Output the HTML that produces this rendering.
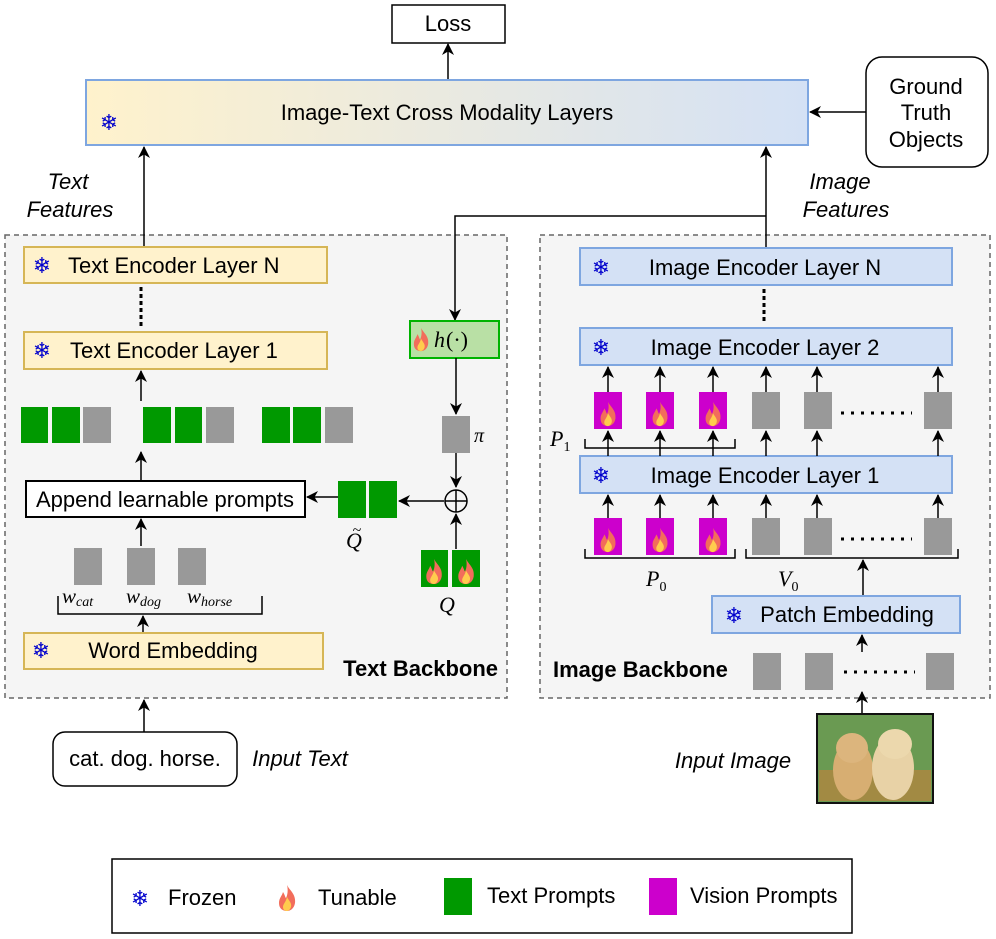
<!DOCTYPE html>
<html><head><meta charset="utf-8"><style>
html,body{margin:0;padding:0;background:#fff;}
svg{display:block;font-family:"Liberation Sans",sans-serif;}
.t{font-size:22px;fill:#000;}
.sf{font-family:"DejaVu Sans",sans-serif;font-size:22px;fill:#0000cc;font-weight:bold;}
.m{font-family:"Liberation Serif",serif;font-style:italic;fill:#000;}
</style></head><body>
<svg width="996" height="939" viewBox="0 0 996 939" xmlns="http://www.w3.org/2000/svg">
<defs>
<linearGradient id="g" x1="0" x2="1" y1="0" y2="0"><stop offset="0" stop-color="#fff2cc"/><stop offset="1" stop-color="#d4e1f5"/></linearGradient>
<marker id="a" markerWidth="12" markerHeight="12" refX="11" refY="6" orient="auto" markerUnits="userSpaceOnUse"><path d="M0,0 L12,6 L0,12 L3.5,6 Z" fill="#000"/></marker>
<symbol id="fl" viewBox="0 0 20 28"><path d="M10,1 C13,7 19,10 18,19 C17,25 13,27 10,27 C6,27 2,25 2,19 C2,14 5,12 6,8 C8,11 8,13 9,14 C11,10 11,5 10,1 Z" fill="#f26d5b"/><path d="M10,13 C12,17 15,19 14,23 C13,26 11,27 10,27 C8,27 6,26 6,23 C6,20 9,18 10,13 Z" fill="#ffcc4d"/></symbol>
</defs>

<rect x="392" y="5" width="113" height="38" fill="#fff" stroke="#000" stroke-width="1.5"/>
<text x="448" y="31" class="t" text-anchor="middle" font-size="21">Loss</text>
<line x1="448" y1="80" x2="448" y2="44" stroke="#000" stroke-width="1.5" marker-end="url(#a)"/>
<rect x="86" y="80" width="722" height="65" fill="url(#g)" stroke="#7ea6e0" stroke-width="2"/>
<text x="447" y="120" class="t" text-anchor="middle">Image-Text Cross Modality Layers</text>
<text x="109" y="130" class="sf" text-anchor="middle">❄</text>
<rect x="866" y="57" width="122" height="110" rx="16" fill="#fff" stroke="#000" stroke-width="1.5"/>
<text x="926" y="94" class="t" text-anchor="middle">Ground</text>
<text x="926" y="120" class="t" text-anchor="middle">Truth</text>
<text x="926" y="147" class="t" text-anchor="middle">Objects</text>
<line x1="866" y1="112" x2="810" y2="112" stroke="#000" stroke-width="1.5" marker-end="url(#a)"/>
<text x="68" y="189" class="t" text-anchor="middle" font-style="italic">Text</text>
<text x="70" y="217" class="t" text-anchor="middle" font-style="italic">Features</text>
<text x="840" y="189" class="t" text-anchor="middle" font-style="italic">Image</text>
<text x="846" y="217" class="t" text-anchor="middle" font-style="italic">Features</text>

<rect x="5" y="235" width="502" height="463" fill="#f5f5f5" stroke="#666" stroke-width="1.5" stroke-dasharray="5,4"/>
<rect x="540" y="235" width="450" height="463" fill="#f5f5f5" stroke="#666" stroke-width="1.5" stroke-dasharray="5,4"/>

<line x1="144" y1="247" x2="144" y2="147" stroke="#000" stroke-width="1.5" marker-end="url(#a)"/>
<polyline points="766,248 766,147" fill="none" stroke="#000" stroke-width="1.5" marker-end="url(#a)"/>
<polyline points="766,216 455,216 455,320" fill="none" stroke="#000" stroke-width="1.5" marker-end="url(#a)"/>

<rect x="24" y="247" width="303" height="36" fill="#fff2cc" stroke="#d6b656" stroke-width="2"/>
<text x="42" y="273" class="sf" text-anchor="middle">❄</text>
<text x="68" y="273" class="t">Text Encoder Layer N</text>
<line x1="141" y1="287" x2="141" y2="328" stroke="#000" stroke-width="3" stroke-dasharray="4,3"/>
<rect x="24" y="332" width="303" height="37" fill="#fff2cc" stroke="#d6b656" stroke-width="2"/>
<text x="42" y="358" class="sf" text-anchor="middle">❄</text>
<text x="70" y="358" class="t">Text Encoder Layer 1</text>
<line x1="141" y1="401" x2="141" y2="371" stroke="#000" stroke-width="1.5" marker-end="url(#a)"/>

<g fill="#009900">
<rect x="21" y="407" width="27" height="36"/><rect x="52" y="407" width="28" height="36"/>
<rect x="143" y="407" width="28" height="36"/><rect x="175" y="407" width="27" height="36"/>
<rect x="262" y="407" width="28" height="36"/><rect x="293" y="407" width="28" height="36"/>
</g>
<g fill="#999">
<rect x="83" y="407" width="28" height="36"/><rect x="206" y="407" width="28" height="36"/><rect x="325" y="407" width="28" height="36"/>
</g>
<line x1="141" y1="480" x2="141" y2="452" stroke="#000" stroke-width="1.5" marker-end="url(#a)"/>
<rect x="26" y="481" width="279" height="36" fill="#fff" stroke="#000" stroke-width="2"/>
<text x="165" y="507" class="t" text-anchor="middle">Append learnable prompts</text>
<line x1="141" y1="546" x2="141" y2="519" stroke="#000" stroke-width="1.5" marker-end="url(#a)"/>
<g fill="#999">
<rect x="74" y="548" width="28" height="37"/><rect x="127" y="548" width="28" height="37"/><rect x="178" y="548" width="28" height="37"/>
</g>
<text x="62" y="603" class="m" font-size="21">w<tspan font-size="14" dy="3">cat</tspan></text>
<text x="126" y="603" class="m" font-size="21">w<tspan font-size="14" dy="3">dog</tspan></text>
<text x="187" y="603" class="m" font-size="21">w<tspan font-size="14" dy="3">horse</tspan></text>
<polyline points="58,596 58,614 262,614 262,596" fill="none" stroke="#000" stroke-width="1.5"/>
<line x1="143" y1="633" x2="143" y2="616" stroke="#000" stroke-width="1.5" marker-end="url(#a)"/>
<rect x="24" y="633" width="299" height="36" fill="#fff2cc" stroke="#d6b656" stroke-width="2"/>
<text x="41" y="658" class="sf" text-anchor="middle">❄</text>
<text x="173" y="658" class="t" text-anchor="middle">Word Embedding</text>
<text x="498" y="676" class="t" text-anchor="end" font-weight="bold">Text Backbone</text>

<rect x="410" y="321" width="89" height="37" fill="#b9e0a5" stroke="#00b300" stroke-width="2"/>
<use href="#fl" x="412" y="327" width="18" height="25"/>
<text x="434" y="347" class="m" font-size="22">h</text><text x="446" y="347" font-family="Liberation Serif,serif" font-size="22">(·)</text>
<line x1="456" y1="358" x2="456" y2="414" stroke="#000" stroke-width="1.5" marker-end="url(#a)"/>
<rect x="442" y="416" width="28" height="37" fill="#999"/>
<text x="474" y="442" class="m" font-size="20">π</text>
<line x1="456" y1="453" x2="456" y2="487" stroke="#000" stroke-width="1.5" marker-end="url(#a)"/>
<circle cx="456" cy="501" r="11" fill="none" stroke="#000" stroke-width="1.5"/>
<line x1="445" y1="501" x2="467" y2="501" stroke="#000" stroke-width="1.5"/>
<line x1="456" y1="490" x2="456" y2="512" stroke="#000" stroke-width="1.5"/>
<line x1="456" y1="549" x2="456" y2="514" stroke="#000" stroke-width="1.5" marker-end="url(#a)"/>
<line x1="444" y1="501" x2="399" y2="501" stroke="#000" stroke-width="1.5" marker-end="url(#a)"/>
<rect x="338" y="481" width="28" height="37" fill="#009900"/><rect x="369" y="481" width="28" height="37" fill="#009900"/>
<line x1="338" y1="497" x2="307" y2="497" stroke="#000" stroke-width="1.5" marker-end="url(#a)"/>
<text x="354" y="548" class="m" font-size="22" text-anchor="middle">Q</text>
<text x="357" y="535" font-family="Liberation Serif,serif" font-size="16" text-anchor="middle">~</text>
<rect x="421" y="550" width="27" height="37" fill="#009900"/><rect x="452" y="550" width="28" height="37" fill="#009900"/>
<use href="#fl" x="424" y="558" width="20" height="27"/><use href="#fl" x="456" y="558" width="20" height="27"/>
<text x="447" y="612" class="m" font-size="22" text-anchor="middle">Q</text>

<line x1="144" y1="732" x2="144" y2="700" stroke="#000" stroke-width="1.5" marker-end="url(#a)"/>
<rect x="53" y="732" width="184" height="54" rx="12" fill="#fff" stroke="#000" stroke-width="1.5"/>
<text x="145" y="766" class="t" text-anchor="middle">cat. dog. horse.</text>
<text x="300" y="766" class="t" text-anchor="middle" font-style="italic">Input Text</text>

<rect x="580" y="248" width="372" height="37" fill="#d4e1f5" stroke="#7ea6e0" stroke-width="2"/>
<text x="601" y="275" class="sf" text-anchor="middle">❄</text>
<text x="765" y="275" class="t" text-anchor="middle">Image Encoder Layer N</text>
<line x1="764" y1="289" x2="764" y2="322" stroke="#000" stroke-width="3" stroke-dasharray="4,3"/>
<rect x="580" y="328" width="372" height="37" fill="#d4e1f5" stroke="#7ea6e0" stroke-width="2"/>
<text x="601" y="355" class="sf" text-anchor="middle">❄</text>
<text x="765" y="355" class="t" text-anchor="middle">Image Encoder Layer 2</text>
<rect x="580" y="456" width="372" height="37" fill="#d4e1f5" stroke="#7ea6e0" stroke-width="2"/>
<text x="601" y="483" class="sf" text-anchor="middle">❄</text>
<text x="765" y="483" class="t" text-anchor="middle">Image Encoder Layer 1</text>

<g stroke="#000" stroke-width="1.5" marker-end="url(#a)">
<line x1="608" y1="392" x2="608" y2="367"/><line x1="660" y1="392" x2="660" y2="367"/><line x1="713" y1="392" x2="713" y2="367"/>
<line x1="766" y1="392" x2="766" y2="367"/><line x1="817" y1="392" x2="817" y2="367"/><line x1="938" y1="392" x2="938" y2="367"/>
<line x1="608" y1="456" x2="608" y2="431"/><line x1="660" y1="456" x2="660" y2="431"/><line x1="713" y1="456" x2="713" y2="431"/>
<line x1="766" y1="456" x2="766" y2="431"/><line x1="817" y1="456" x2="817" y2="431"/><line x1="938" y1="456" x2="938" y2="431"/>
<line x1="608" y1="518" x2="608" y2="495"/><line x1="660" y1="518" x2="660" y2="495"/><line x1="713" y1="518" x2="713" y2="495"/>
<line x1="766" y1="518" x2="766" y2="495"/><line x1="817" y1="518" x2="817" y2="495"/><line x1="938" y1="518" x2="938" y2="495"/>
<line x1="863" y1="596" x2="863" y2="560"/>
<line x1="862" y1="652" x2="862" y2="635"/>
<line x1="862" y1="714" x2="862" y2="692"/>
</g>
<g fill="#cc00cc">
<rect x="594" y="392" width="28" height="37"/><rect x="646" y="392" width="28" height="37"/><rect x="699" y="392" width="28" height="37"/>
<rect x="594" y="518" width="28" height="37"/><rect x="646" y="518" width="28" height="37"/><rect x="699" y="518" width="28" height="37"/>
</g>
<use href="#fl" x="598" y="401" width="20" height="26"/><use href="#fl" x="650" y="401" width="20" height="26"/><use href="#fl" x="703" y="401" width="20" height="26"/>
<use href="#fl" x="598" y="527" width="20" height="26"/><use href="#fl" x="650" y="527" width="20" height="26"/><use href="#fl" x="703" y="527" width="20" height="26"/>
<g fill="#999">
<rect x="752" y="392" width="28" height="37"/><rect x="804" y="392" width="28" height="37"/><rect x="924" y="392" width="28" height="37"/>
<rect x="752" y="518" width="28" height="37"/><rect x="804" y="518" width="28" height="37"/><rect x="924" y="518" width="28" height="37"/>
<rect x="753" y="653" width="28" height="37"/><rect x="805" y="653" width="28" height="37"/><rect x="926" y="653" width="28" height="37"/>
</g>
<line x1="841" y1="413" x2="912" y2="413" stroke="#000" stroke-width="3" stroke-dasharray="3,7"/>
<line x1="841" y1="539" x2="912" y2="539" stroke="#000" stroke-width="3" stroke-dasharray="3,7"/>
<line x1="844" y1="672" x2="915" y2="672" stroke="#000" stroke-width="3" stroke-dasharray="3,7"/>
<polyline points="585,439 585,448 735,448 735,439" fill="none" stroke="#000" stroke-width="1.5"/>
<text x="550" y="446" class="m" font-size="22">P<tspan font-size="14" dy="5" font-style="normal">1</tspan></text>
<polyline points="585,549 585,558 735,558 735,549" fill="none" stroke="#000" stroke-width="1.5"/>
<text x="646" y="586" class="m" font-size="22">P<tspan font-size="14" dy="5" font-style="normal">0</tspan></text>
<polyline points="746,549 746,558 958,558 958,549" fill="none" stroke="#000" stroke-width="1.5"/>
<text x="778" y="586" class="m" font-size="22">V<tspan font-size="14" dy="5" font-style="normal">0</tspan></text>
<rect x="712" y="596" width="248" height="37" fill="#d4e1f5" stroke="#7ea6e0" stroke-width="2"/>
<text x="734" y="623" class="sf" text-anchor="middle">❄</text>
<text x="847" y="622" class="t" text-anchor="middle">Patch Embedding</text>
<text x="553" y="677" class="t" font-weight="bold">Image Backbone</text>

<rect x="817" y="714" width="116" height="89" fill="#6a9a52" stroke="#111" stroke-width="2"/>
<rect x="819" y="770" width="112" height="31" fill="#c8803a" opacity="0.6"/>
<ellipse cx="853" cy="770" rx="20" ry="30" fill="#d7ae72"/>
<ellipse cx="852" cy="748" rx="16" ry="15" fill="#dcb57d"/>
<ellipse cx="893" cy="768" rx="21" ry="32" fill="#e8d2a6"/>
<ellipse cx="895" cy="744" rx="17" ry="15" fill="#ecd8ad"/>
<text x="733" y="768" class="t" text-anchor="middle" font-style="italic">Input Image</text>

<rect x="112" y="859" width="740" height="74" fill="#fff" stroke="#000" stroke-width="1.5"/>
<text x="140" y="906" class="sf" text-anchor="middle">❄</text>
<text x="168" y="905" class="t">Frozen</text>
<use href="#fl" x="277" y="884" width="20" height="28"/>
<text x="318" y="905" class="t">Tunable</text>
<rect x="444" y="878" width="28" height="37" fill="#009900"/>
<text x="487" y="903" class="t">Text Prompts</text>
<rect x="649" y="878" width="28" height="37" fill="#cc00cc"/>
<text x="690" y="903" class="t">Vision Prompts</text>
</svg>
</body></html>
